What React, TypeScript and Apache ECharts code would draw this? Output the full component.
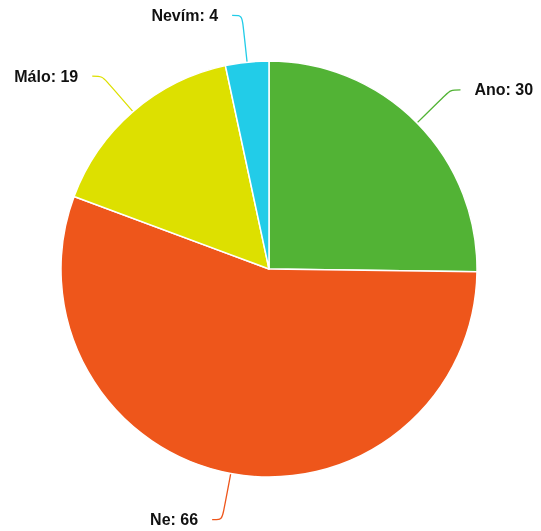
import React, { useEffect, useRef } from "react";
import * as echarts from "echarts";

const categories = ["Ano", "Ne", "Málo", "Nevím"];
const values = [30, 66, 19, 4];
const colors = ["#52b335", "#ee561b", "#dde000", "#22cce8"];

export default function App() {
  const ref = useRef<HTMLDivElement>(null);
  useEffect(() => {
    if (!ref.current) return;
    const chart = echarts.init(ref.current, null, { renderer: "svg" });
    chart.setOption({
      animation: false,
      color: colors,
      series: [
        {
          type: "pie",
          center: [269, 269],
          radius: 208,
          startAngle: 90,
          clockwise: true,
          data: categories.map((c, i) => ({ name: c, value: values[i] })),
          itemStyle: { borderColor: "#ffffff", borderWidth: 1.5 },
          label: {
            formatter: "{b}: {c}",
            color: "#111",
            fontFamily: "Liberation Sans, Arial, sans-serif",
            fontWeight: "bold",
            fontSize: 16,
            distanceToLabelLine: 14,
            overflow: "none",
          },
          labelLine: { show: true, length: 47, length2: 10, smooth: true, lineStyle: { width: 1.3 } },
        },
      ],
    });
    return () => chart.dispose();
  }, []);
  return <div ref={ref} style={{ position: "fixed", left: 0, top: 0, width: 541, height: 531 }} />;
}
